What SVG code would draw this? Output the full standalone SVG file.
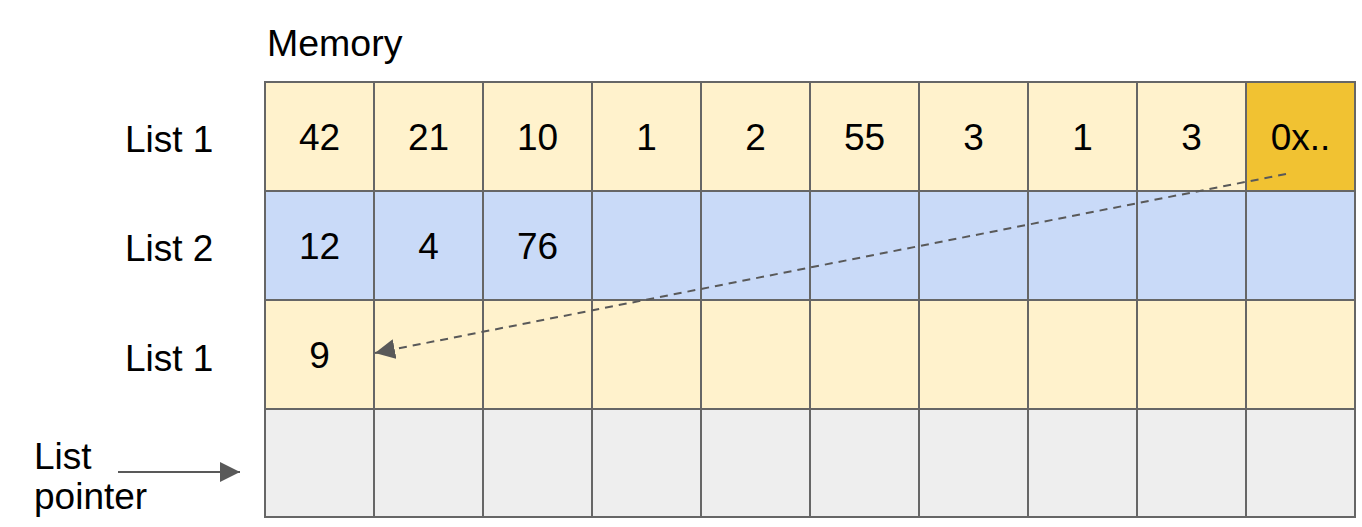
<svg xmlns="http://www.w3.org/2000/svg" width="1362" height="527" viewBox="0 0 1362 527">
<defs>
<style>
.t{font-family:"Liberation Sans",Arial,sans-serif;font-size:37px;fill:#000}
.n{text-anchor:middle}
.c{stroke:#666;stroke-width:2}
.y{fill:#fff2cc}
.b{fill:#c9daf8}
.g{fill:#eeeeee}
.o{fill:#f1c232}
</style>
<marker id="ah" viewBox="0 0 10 10" refX="10" refY="5" markerWidth="20" markerHeight="20" markerUnits="userSpaceOnUse" orient="auto"><path d="M0,0 L10,5 L0,10 Z" fill="#595959"/></marker>
</defs>
<rect width="1362" height="527" fill="#fff"/>
<text class="t" x="267" y="56" style="font-size:37.5px">Memory</text>
<g id="labels">
<text class="t" x="125" y="152">List 1</text>
<text class="t" x="125" y="261">List 2</text>
<text class="t" x="125" y="371">List 1</text>
<text class="t" x="34" y="469">List</text>
<text class="t" x="34" y="509">pointer</text>
</g>
<g id="row1">
<rect class="c y" x="265" y="82" width="109" height="109"/>
<rect class="c y" x="374" y="82" width="109" height="109"/>
<rect class="c y" x="483" y="82" width="109" height="109"/>
<rect class="c y" x="592" y="82" width="109" height="109"/>
<rect class="c y" x="701" y="82" width="109" height="109"/>
<rect class="c y" x="810" y="82" width="109" height="109"/>
<rect class="c y" x="919" y="82" width="109" height="109"/>
<rect class="c y" x="1028" y="82" width="109" height="109"/>
<rect class="c y" x="1137" y="82" width="109" height="109"/>
<rect class="c o" x="1246" y="82" width="109" height="109"/>
<text class="t n" x="319.5" y="150">42</text>
<text class="t n" x="428.5" y="150">21</text>
<text class="t n" x="537.5" y="150">10</text>
<text class="t n" x="646.5" y="150">1</text>
<text class="t n" x="755.5" y="150">2</text>
<text class="t n" x="864.5" y="150">55</text>
<text class="t n" x="973.5" y="150">3</text>
<text class="t n" x="1082.5" y="150">1</text>
<text class="t n" x="1191.5" y="150">3</text>
<text class="t n" x="1300.5" y="150">0x..</text>
</g>
<g id="row2">
<rect class="c b" x="265" y="191" width="109" height="109"/>
<rect class="c b" x="374" y="191" width="109" height="109"/>
<rect class="c b" x="483" y="191" width="109" height="109"/>
<rect class="c b" x="592" y="191" width="109" height="109"/>
<rect class="c b" x="701" y="191" width="109" height="109"/>
<rect class="c b" x="810" y="191" width="109" height="109"/>
<rect class="c b" x="919" y="191" width="109" height="109"/>
<rect class="c b" x="1028" y="191" width="109" height="109"/>
<rect class="c b" x="1137" y="191" width="109" height="109"/>
<rect class="c b" x="1246" y="191" width="109" height="109"/>
<text class="t n" x="319.5" y="259">12</text>
<text class="t n" x="428.5" y="259">4</text>
<text class="t n" x="537.5" y="259">76</text>
</g>
<g id="row3">
<rect class="c y" x="265" y="300" width="109" height="109"/>
<rect class="c y" x="374" y="300" width="109" height="109"/>
<rect class="c y" x="483" y="300" width="109" height="109"/>
<rect class="c y" x="592" y="300" width="109" height="109"/>
<rect class="c y" x="701" y="300" width="109" height="109"/>
<rect class="c y" x="810" y="300" width="109" height="109"/>
<rect class="c y" x="919" y="300" width="109" height="109"/>
<rect class="c y" x="1028" y="300" width="109" height="109"/>
<rect class="c y" x="1137" y="300" width="109" height="109"/>
<rect class="c y" x="1246" y="300" width="109" height="109"/>
<text class="t n" x="319.5" y="368">9</text>
</g>
<g id="row4">
<rect class="c g" x="265" y="409" width="109" height="108"/>
<rect class="c g" x="374" y="409" width="109" height="108"/>
<rect class="c g" x="483" y="409" width="109" height="108"/>
<rect class="c g" x="592" y="409" width="109" height="108"/>
<rect class="c g" x="701" y="409" width="109" height="108"/>
<rect class="c g" x="810" y="409" width="109" height="108"/>
<rect class="c g" x="919" y="409" width="109" height="108"/>
<rect class="c g" x="1028" y="409" width="109" height="108"/>
<rect class="c g" x="1137" y="409" width="109" height="108"/>
<rect class="c g" x="1246" y="409" width="109" height="108"/>
</g>
<g id="connectors">
<line x1="1286" y1="174" x2="375" y2="353" stroke="#595959" stroke-width="2" stroke-dasharray="8,6" marker-end="url(#ah)"/>
<line x1="118" y1="472" x2="240" y2="472" stroke="#595959" stroke-width="2" marker-end="url(#ah)"/>
</g>
</svg>
